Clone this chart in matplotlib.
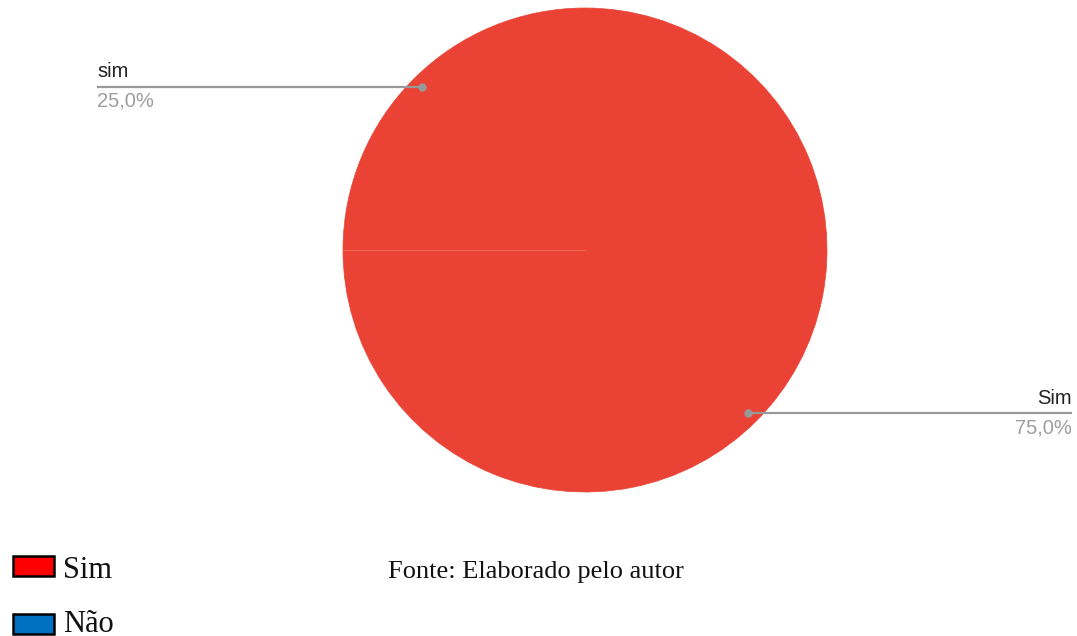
import matplotlib.pyplot as plt
import matplotlib.patches as mpatches
import numpy as np

# dados
slice_labels = ["Sim", "sim"]
slice_values = [75.0, 25.0]
slice_pct = ["75,0%", "25,0%"]
legend_labels = ["Sim", "Não"]
legend_colors = ["#FF0000", "#0070C0"]
fonte = "Fonte: Elaborado pelo autor"

W, H = 1077, 636
fig = plt.figure(figsize=(W / 100, H / 100), dpi=100)

# eixo da pizza (centro ~ (585, 250), raio ~242 px)
cx, cy, r = 585, 250, 242
ax = fig.add_axes([(cx - r) / W, (H - cy - r) / H, 2 * r / W, 2 * r / H])
wedges, _ = ax.pie(slice_values, colors=["#EA4335", "#EA4335"], startangle=90,
                   counterclock=False, radius=1,
                   wedgeprops=dict(edgecolor="#EA4335", linewidth=0.5))
ax.set_xlim(-1, 1)
ax.set_ylim(-1, 1)
ax.set_aspect("equal")
ax.axis("off")

# linha clara na divisa entre as fatias (só a do lado esquerdo aparece)
a = np.deg2rad(wedges[0].theta1)
ax.plot([0, np.cos(a)], [0, np.sin(a)], color="#EF6357", lw=0.8)

# rótulos com linhas de chamada
line_end = {"right": (1072 - cx) / r, "left": (97 - cx) / r}
for w, lab, pct in zip(wedges, slice_labels, slice_pct):
    ang = np.deg2rad((w.theta1 + w.theta2) / 2)
    px, py = 0.955 * np.cos(ang), 0.955 * np.sin(ang)
    side = "right" if px > 0 else "left"
    ex = line_end[side]
    ax.plot([px, ex], [py, py], color="#999999", lw=1.6, clip_on=False,
            solid_capstyle="butt")
    ax.plot(px, py, "o", color="#999999", ms=5, clip_on=False)
    ha = "right" if side == "right" else "left"
    ax.text(ex, py + 0.022, lab, ha=ha, va="bottom", fontsize=14.5,
            family="Liberation Sans", color="#222222")
    ax.text(ex, py - 0.02, pct, ha=ha, va="top", fontsize=14.5,
            family="Liberation Sans", color="#9E9E9E")

# legenda manual
box_tops = [556, 614]
text_base = [578, 632]
for lab, col, top, base in zip(legend_labels, legend_colors, box_tops, text_base):
    fig.patches.append(mpatches.Rectangle((13 / W, (H - top - 20) / H), 41 / W, 20 / H,
                                          transform=fig.transFigure, facecolor=col,
                                          edgecolor="black", linewidth=1.8))
    fig.text(63 / W, (H - base) / H, lab, ha="left", va="baseline",
             fontsize=22, family="Liberation Serif", color="#111111")

fig.text(388 / W, (H - 578) / H, fonte, ha="left", va="baseline",
         fontsize=19, family="Liberation Serif", color="#111111")

fig.savefig("out.png", dpi=100, facecolor="white")
